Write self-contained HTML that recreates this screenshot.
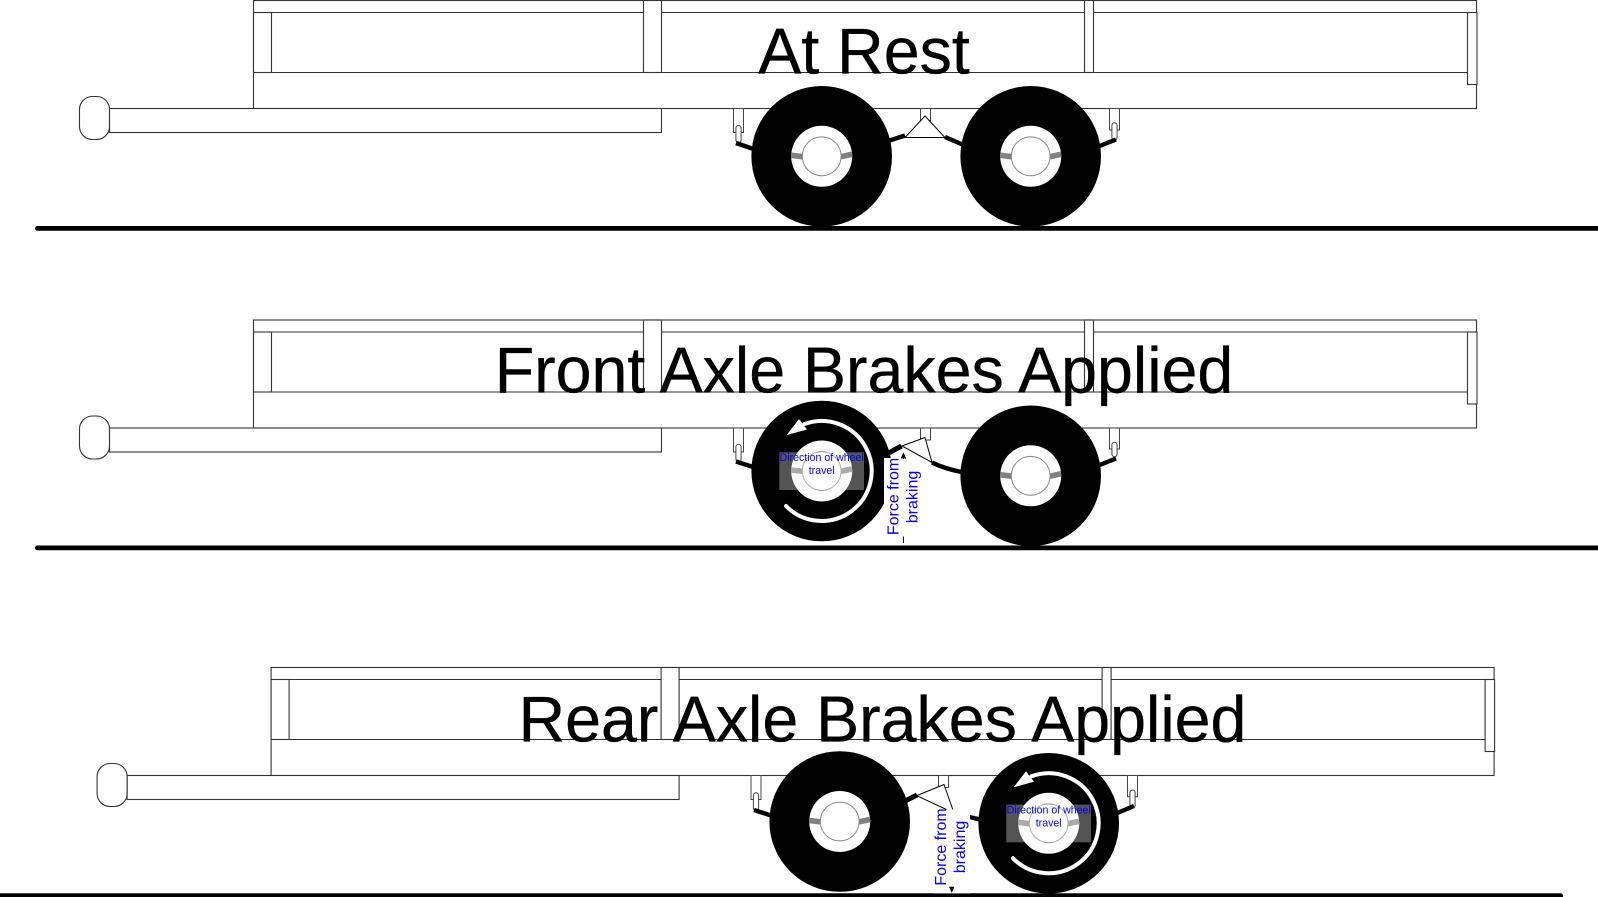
<!DOCTYPE html>
<html>
<head>
<meta charset="utf-8">
<style>
html,body{margin:0;padding:0;background:#fff;width:1598px;height:897px;overflow:hidden}
svg{display:block}
text{font-family:"Liberation Sans",sans-serif}
.t{font-size:64.5px;fill:#000;stroke:#000;stroke-width:0.35;text-anchor:middle}
.s{font-size:10.6px;fill:#00f;text-anchor:middle}
.f{font-size:16px;fill:#00f;text-anchor:middle}
</style>
</head>
<body>
<svg width="1598" height="897" viewBox="0 0 1598 897" xmlns="http://www.w3.org/2000/svg">
<defs>
<g id="chassis" fill="#fff" stroke="#333" stroke-width="1.1">
  <rect x="253.5" y="0.5" width="1223" height="108"/>
  <line x1="253.5" y1="12.5" x2="1476.5" y2="12.5"/>
  <line x1="253.5" y1="72.5" x2="1476.5" y2="72.5"/>
  <rect x="253.5" y="12.5" width="18" height="60"/>
  <rect x="643.5" y="0.5" width="18" height="72"/>
  <rect x="1084.5" y="0.5" width="9" height="72"/>
  <rect x="1467.5" y="12.5" width="9.5" height="72"/>
  <rect x="109.5" y="108.5" width="552" height="24"/>
  <rect x="79.5" y="96.5" width="30" height="43" rx="13" ry="13"/>
</g>
<g id="wheel">
  <circle r="70.3" fill="#000"/>
  <circle r="30.5" fill="#fff"/>
  <line x1="-30.4" y1="-1" x2="-19" y2="0.4" stroke="#808080" stroke-width="5.6"/>
  <line x1="19" y1="0.4" x2="30.4" y2="-2" stroke="#808080" stroke-width="5.6"/>
  <circle r="19.4" fill="#fff" stroke="#888" stroke-width="1"/>
</g>
<g id="rot">
  <path d="M786 506 A50 50 0 1 0 804.5 424" fill="none" stroke="#fff" stroke-width="4" stroke-linecap="round"/>
  <polygon points="786.7,435 799,419 807,429.5" fill="#fff"/>
  <rect x="779.3" y="452.3" width="84.7" height="37.7" fill="#fff" fill-opacity="0.33"/>
  <text class="s" x="821.7" y="461.2">Direction of wheel</text>
  <text class="s" x="821.7" y="474">travel</text>
</g>
</defs>

<!-- ROW 1 -->
<use href="#chassis"/>
<g fill="#fff" stroke="#444" stroke-width="1">
  <rect x="733.5" y="108.5" width="10" height="24"/>
  <rect x="735.9" y="125.5" width="5.2" height="17.2" rx="2.6"/>
  <rect x="920.5" y="108.5" width="10" height="12"/>
  <rect x="1109.5" y="108.5" width="10" height="21.5"/>
  <rect x="1111.9" y="122.7" width="5.2" height="17.3" rx="2.6"/>
</g>
<path d="M925 116 L905 137.5 L945 137.5 Z" fill="#fff" stroke="#000" stroke-width="1"/>
<g stroke="#000" stroke-width="4.4" fill="none">
  <path d="M736 143 L755 149.5"/>
  <path d="M888 141 L905 135.5"/>
  <path d="M945 137 L966 146"/>
  <path d="M1116 139.5 L1097 147"/>
</g>
<use href="#wheel" x="821.7" y="156.3"/>
<use href="#wheel" x="1030.7" y="156.3"/>
<text class="t" x="864" y="73.5">At Rest</text>
<rect x="35" y="226" width="1570" height="4.8" rx="2.4" fill="#000"/>

<!-- ROW 2 -->
<use href="#chassis" y="319.5"/>
<g fill="#fff" stroke="#444" stroke-width="1">
  <rect x="733.5" y="428" width="10" height="24"/>
  <rect x="735.9" y="444.3" width="5.2" height="17.4" rx="2.6"/>
  <rect x="920.5" y="428" width="10" height="12"/>
  <rect x="1109.5" y="428" width="10" height="21"/>
  <rect x="1111.9" y="442.3" width="5.2" height="14.4" rx="2.6"/>
</g>
<path d="M925 437.5 L902 446 L932 462.5 Z" fill="#fff" stroke="#000" stroke-width="1"/>
<g stroke="#000" stroke-width="4.4" fill="none">
  <path d="M736 461.5 L756 468"/>
  <path d="M885 455 L901.5 446" stroke-width="5"/>
  <path d="M932 462.5 Q945 469 964 472.5"/>
  <path d="M1116 458.5 L1097 466"/>
</g>
<use href="#wheel" x="821.7" y="471"/>
<use href="#wheel" x="1030.7" y="475.8"/>
<use href="#rot"/>
<text class="t" x="864" y="392.5">Front Axle Brakes Applied</text>
<rect x="35" y="545.5" width="1570" height="4.8" rx="2.4" fill="#000"/>
<rect x="884" y="458" width="38" height="82" fill="#fff"/>
<line x1="903.4" y1="458" x2="903.4" y2="543" stroke="#000" stroke-width="1"/>
<polygon points="903.4,452.5 900.6,458.5 906.2,458.5" fill="#000"/>
<rect x="884" y="459" width="38" height="77.5" fill="#fff"/>
<text class="f" transform="translate(898.7,496.5) rotate(-90)">Force from</text>
<text class="f" transform="translate(917.3,497) rotate(-90)">braking</text>

<!-- ROW 3 -->
<use href="#chassis" x="17.6" y="667"/>
<g fill="#fff" stroke="#444" stroke-width="1">
  <rect x="751" y="775.5" width="10" height="24"/>
  <rect x="753.4" y="792.7" width="5.2" height="18" rx="2.6"/>
  <rect x="938.5" y="775.5" width="10" height="12"/>
  <rect x="1127.5" y="775.5" width="10" height="21.2"/>
  <rect x="1129.9" y="790" width="5.2" height="18" rx="2.6"/>
</g>
<path d="M944 784.5 L916.7 795.7 L954 813 Z" fill="#fff" stroke="#000" stroke-width="1"/>
<g stroke="#000" stroke-width="4.4" fill="none">
  <path d="M754 810 L774 816.5"/>
  <path d="M905 801 L917 795" stroke-width="5"/>
  <path d="M950 812 Q965 816 982 820"/>
  <path d="M1134 806 L1115 814"/>
</g>
<use href="#wheel" x="839.7" y="821.5"/>
<use href="#wheel" x="1048.7" y="823.3"/>
<use href="#rot" x="227" y="352.3"/>
<rect x="-5" y="893.3" width="1568" height="6" rx="2.4" fill="#000"/>
<rect x="933" y="809.5" width="37" height="83.8" fill="#fff"/>
<polygon points="951.7,892.8 949,886.8 954.4,886.8" fill="#000"/>
<text class="t" x="882.5" y="741.5">Rear Axle Brakes Applied</text>
<text class="f" transform="translate(946,847) rotate(-90)">Force from</text>
<text class="f" transform="translate(965,847) rotate(-90)">braking</text>
</svg>
</body>
</html>
